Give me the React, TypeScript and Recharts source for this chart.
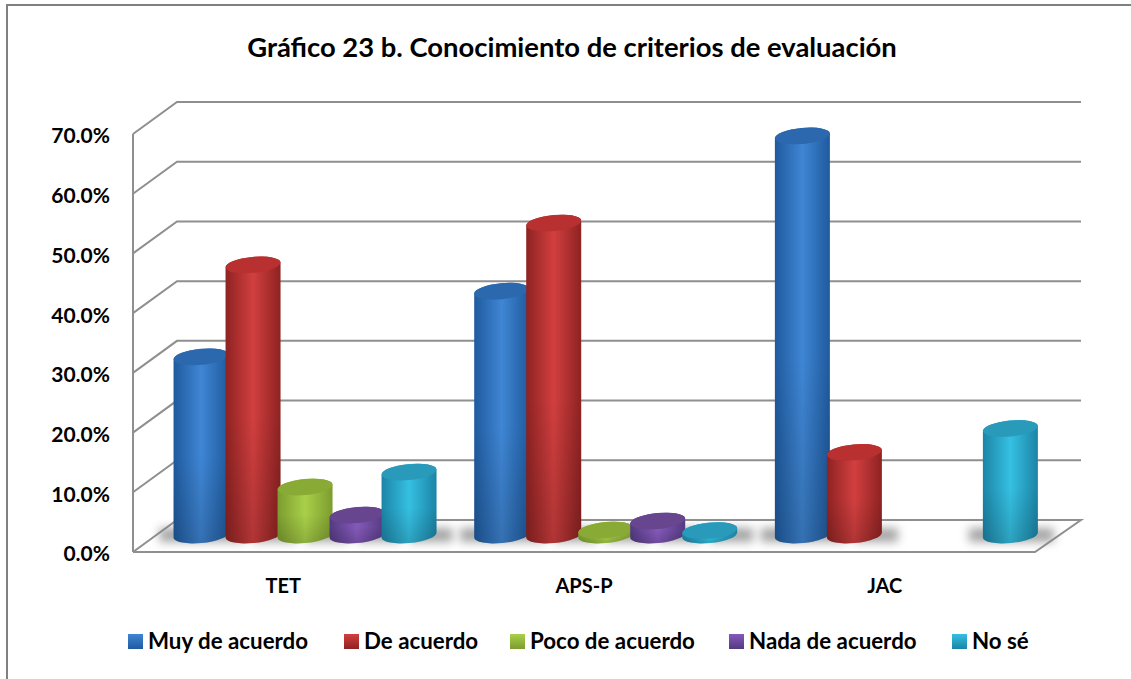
import React from 'react';
import { BarChart, Bar, XAxis, YAxis, CartesianGrid, Legend } from 'recharts';

const categories = ['TET', 'APS-P', 'JAC'];
const muyDeAcuerdo = [30.0, 41.0, 67.0];
const deAcuerdo = [45.4, 52.4, 14.0];
const pocoDeAcuerdo = [8.2, 1.0, null];
const nadaDeAcuerdo = [3.5, 2.5, null];
const noSe = [10.7, 0.9, 18.0];
const yTicks = [0, 10, 20, 30, 40, 50, 60, 70];

const seriesNames = ['Muy de acuerdo', 'De acuerdo', 'Poco de acuerdo', 'Nada de acuerdo', 'No sé'];
const seriesKeys = ['muy', 'de', 'poco', 'nada', 'nose'];
const edgeColors = ['#1f5a9e', '#8e2222', '#7c9c2e', '#533a80', '#1c84a6'];
const midColors = ['#3f86d4', '#d23f3f', '#a9d04a', '#8559ba', '#35c0e2'];
const capColors = ['#2c68ad', '#b93030', '#89ab36', '#67458f', '#2a9aba'];
const legendX = [128, 344, 510, 729, 952];

const data = categories.map((name, i) => ({
  name,
  muy: muyDeAcuerdo[i],
  de: deAcuerdo[i],
  poco: pocoDeAcuerdo[i],
  nada: nadaDeAcuerdo[i],
  nose: noSe[i],
}));

const FONT = 'Lato, sans-serif';
const GRID = '#8f8f8f';
// depth of the fake 3D box, and where the cylinders sit inside it
const DEPTH_X = 45;
const DEPTH_Y = 32;
const BAR_DX = 22.5;
const BAR_DY = -16;
const TILT = 5.5;

const Cylinder = (props: any) => {
  const { x, y, width, height, payload, index } = props;
  if (height == null || width == null) return null;
  const i = props.seriesIndex;
  const prev = seriesKeys[i - 1];
  const openLeft = !prev || payload[prev] == null;
  const rx = width / 2 + 1.5;
  const ry = 8;
  const cx = x + width / 2 + BAR_DX;
  const top = y + BAR_DY;
  const bottom = y + height + BAR_DY - 1;
  const t = rx * Math.sin((TILT * Math.PI) / 180);
  const left = cx - rx;
  const right = cx + rx;
  const body = `M${left},${top + t} L${left},${bottom + t} A${rx},${ry} ${-TILT} 0 0 ${right},${bottom - t} L${right},${top - t} A${rx},${ry} ${-TILT} 0 0 ${left},${top + t} Z`;
  return (
    <g key={index}>
      <rect
        x={openLeft ? left - 14 : cx}
        y={bottom - 7}
        width={openLeft ? rx * 2 + 30 : rx + 16}
        height={14}
        fill="#808080"
        opacity={0.7}
        filter="url(#floorShadow)"
      />
      <path d={body} fill={`url(#body${i})`} />
      <path d={body} fill="url(#bodyShade)" />
      <ellipse cx={cx} cy={top} rx={rx} ry={ry} transform={`rotate(${-TILT} ${cx} ${top})`} fill={capColors[i]} />
    </g>
  );
};

const gridLine = (props: any) => {
  const { x1, x2, y1, index } = props;
  const backY = y1 - DEPTH_Y;
  const backLeft = x1 + DEPTH_X - 1;
  const backRight = x2 + DEPTH_X + 1;
  const isFloor = Math.abs(y1 - 552) < 2;
  const pts = isFloor
    ? `${x1},${y1} ${backLeft},${backY} ${backRight},${backY} ${x2},${y1} ${x1},${y1}`
    : `${x1},${y1} ${backLeft},${backY} ${backRight},${backY}`;
  return <polyline key={index} points={pts} fill="none" stroke={GRID} strokeWidth={2} />;
};

const renderLegend = () => (
  <div style={{ fontFamily: FONT, fontWeight: 700, fontSize: 22.3, color: '#000', lineHeight: '26px' }}>
    {seriesNames.map((name, i) => (
      <div key={name} style={{ display: 'flex', alignItems: 'center', position: 'absolute', left: legendX[i], whiteSpace: 'nowrap' }}>
        <span
          style={{
            width: 15,
            height: 15,
            marginRight: 5,
            background: `linear-gradient(${midColors[i]}, ${edgeColors[i]})`,
          }}
        />
        {name}
      </div>
    ))}
  </div>
);

export default function App() {
  return (
    <div style={{ position: 'absolute', left: 0, top: 0, width: 1131, height: 679, overflow: 'hidden', background: '#fff' }}>
      <BarChart
        width={1131}
        height={679}
        data={data}
        margin={{ top: 134, right: 96, bottom: 47, left: 33 }}
        barGap={0}
        barCategoryGap="6.5%"
      >
        <defs>
          {seriesKeys.map((k, i) => (
            <linearGradient key={k} id={`body${i}`} x1="0" y1="0" x2="1" y2="0">
              <stop offset="0%" stopColor={edgeColors[i]} />
              <stop offset="50%" stopColor={midColors[i]} />
              <stop offset="100%" stopColor={edgeColors[i]} />
            </linearGradient>
          ))}
          <linearGradient id="bodyShade" x1="0" y1="0" x2="0" y2="1">
            <stop offset="55%" stopColor="#000" stopOpacity={0} />
            <stop offset="100%" stopColor="#000" stopOpacity={0.16} />
          </linearGradient>
          <filter id="floorShadow" x="-40%" y="-120%" width="180%" height="340%">
            <feGaussianBlur stdDeviation="5" />
          </filter>
        </defs>
        <text x={572} y={57} textAnchor="middle" fontFamily={FONT} fontWeight={700} fontSize={27.4} fill="#000">
          Gráfico 23 b. Conocimiento de criterios de evaluación
        </text>
        <CartesianGrid vertical={false} horizontal={gridLine} />
        <XAxis
          dataKey="name"
          height={50}
          axisLine={false}
          tickLine={false}
          tickMargin={21}
          tick={{ fill: '#000', fontFamily: FONT, fontWeight: 700, fontSize: 20 }}
        />
        <YAxis
          width={100}
          domain={[0, 70]}
          ticks={yTicks}
          interval={0}
          tickFormatter={(v: number) => `${v.toFixed(1)}%`}
          axisLine={{ stroke: GRID, strokeWidth: 2 }}
          tickLine={false}
          tickMargin={17}
          tick={{ fill: '#000', fontFamily: FONT, fontWeight: 700, fontSize: 21, dy: 2 }}
        />
        <Legend
          height={30}
          content={renderLegend}
          wrapperStyle={{ left: 0, top: 628, bottom: 'auto', width: 1131 }}
        />
        {seriesKeys.map((k, i) => (
          <Bar
            key={k}
            dataKey={k}
            name={seriesNames[i]}
            fill={midColors[i]}
            isAnimationActive={false}
            shape={(p: any) => <Cylinder {...p} seriesIndex={i} />}
          />
        ))}
      </BarChart>
      {/* outer chart frame, runs off the page on the right and at the bottom */}
      <div style={{ position: 'absolute', zIndex: 10, left: 6, top: 4, width: 2, height: 675, background: '#808080' }} />
      <div style={{ position: 'absolute', zIndex: 10, left: 6, top: 4, width: 1125, height: 2, background: '#808080' }} />
    </div>
  );
}
